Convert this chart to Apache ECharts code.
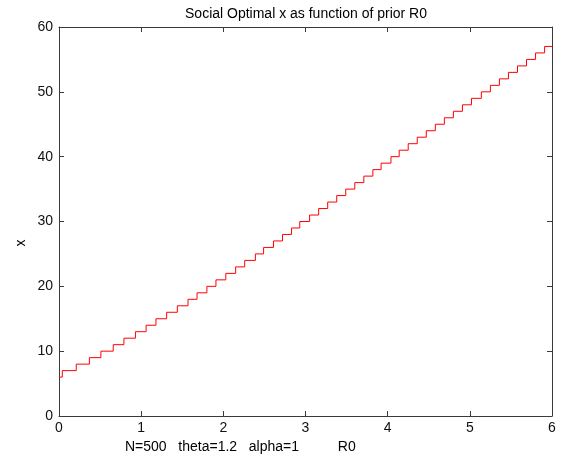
<!DOCTYPE html>
<html>
<head>
<meta charset="utf-8">
<script src="https://cdn.jsdelivr.net/npm/echarts@6/dist/echarts.min.js"></script>
<style>
html,body{margin:0;padding:0;background:#fff;}
#c{width:563px;height:461px;}
</style>
</head>
<body>
<div id="c"></div>
<script>
// Step positions (R0) where x takes each new value
var stepR0 = [0, 0.04, 0.21, 0.37, 0.51, 0.66, 0.79, 0.93, 1.06, 1.18, 1.31, 1.44,
  1.57, 1.68, 1.80, 1.91, 2.03, 2.15, 2.26, 2.39, 2.49, 2.61, 2.72, 2.83,
  2.93, 3.05, 3.16, 3.27, 3.38, 3.49, 3.60, 3.71, 3.82, 3.92, 4.04, 4.14, 4.25, 4.36,
  4.47, 4.58, 4.69, 4.80, 4.91, 5.02, 5.14, 5.25, 5.36, 5.47, 5.58, 5.69, 5.80, 5.91, 6];
var stepX = [6, 7, 8, 9, 10, 11, 12, 13, 14, 15, 16, 17,
  18, 19, 20, 21, 22, 23, 24, 25, 26, 27, 28, 29,
  30, 31, 32, 33, 34, 35, 36, 37, 38, 39, 40, 41, 42, 43,
  44, 45, 46, 47, 48, 49, 50, 51, 52, 53, 54, 55, 56, 57, 57];
var xTicks = [0, 1, 2, 3, 4, 5, 6];
var yTicks = [0, 10, 20, 30, 40, 50, 60];
var titleText = 'Social Optimal x as function of prior R0';
var xLabelText = 'N=500   theta=1.2   alpha=1          R0';
var yLabelText = 'x';

var data = stepR0.map(function (r, i) { return [r, stepX[i]]; });
var font = '"Liberation Sans", Arial, sans-serif';
var axisLine = {show: true, onZero: false, lineStyle: {color: '#3a3a3a', width: 1}};
var tick = {show: true, inside: true, length: 5, lineStyle: {color: '#3a3a3a'}};
var labelStyle = {fontSize: 14, color: '#111', fontFamily: font};

var chart = echarts.init(document.getElementById('c'));
chart.setOption({
  animation: false,
  backgroundColor: '#fff',
  title: {
    text: titleText, left: 301, top: 2, textAlign: 'center',
    textStyle: {fontSize: 14, fontWeight: 'normal', color: '#000', fontFamily: font}
  },
  grid: {left: 59, right: 11, top: 27, bottom: 45, containLabel: false},
  xAxis: [{
    type: 'value', min: xTicks[0], max: xTicks[xTicks.length - 1], interval: 1,
    axisLine: axisLine, axisTick: tick, splitLine: {show: false},
    axisLabel: Object.assign({margin: 5}, labelStyle)
  }, {
    type: 'value', position: 'top', min: xTicks[0], max: xTicks[xTicks.length - 1], interval: 1,
    axisLine: axisLine, axisTick: tick, splitLine: {show: false}, axisLabel: {show: false}
  }],
  yAxis: [{
    type: 'value', min: yTicks[0], max: yTicks[yTicks.length - 1], interval: 10,
    axisLine: axisLine, axisTick: tick, splitLine: {show: false},
    axisLabel: Object.assign({margin: 6}, labelStyle)
  }, {
    type: 'value', position: 'right', min: yTicks[0], max: yTicks[yTicks.length - 1], interval: 10,
    axisLine: axisLine, axisTick: tick, splitLine: {show: false}, axisLabel: {show: false}
  }],
  graphic: [{
    type: 'text', left: 125, top: 440,
    style: {text: xLabelText, fill: '#000', font: '14px ' + font}
  }, {
    type: 'text', x: 21, y: 243, rotation: Math.PI / 2,
    style: {text: yLabelText, fill: '#000', font: '14px ' + font, align: 'center', verticalAlign: 'middle'}
  }],
  series: [{
    type: 'line', step: 'end', data: data, symbol: 'none',
    lineStyle: {color: '#ff0000', width: 1}, xAxisIndex: 0, yAxisIndex: 0
  }]
});
</script>
</body>
</html>
